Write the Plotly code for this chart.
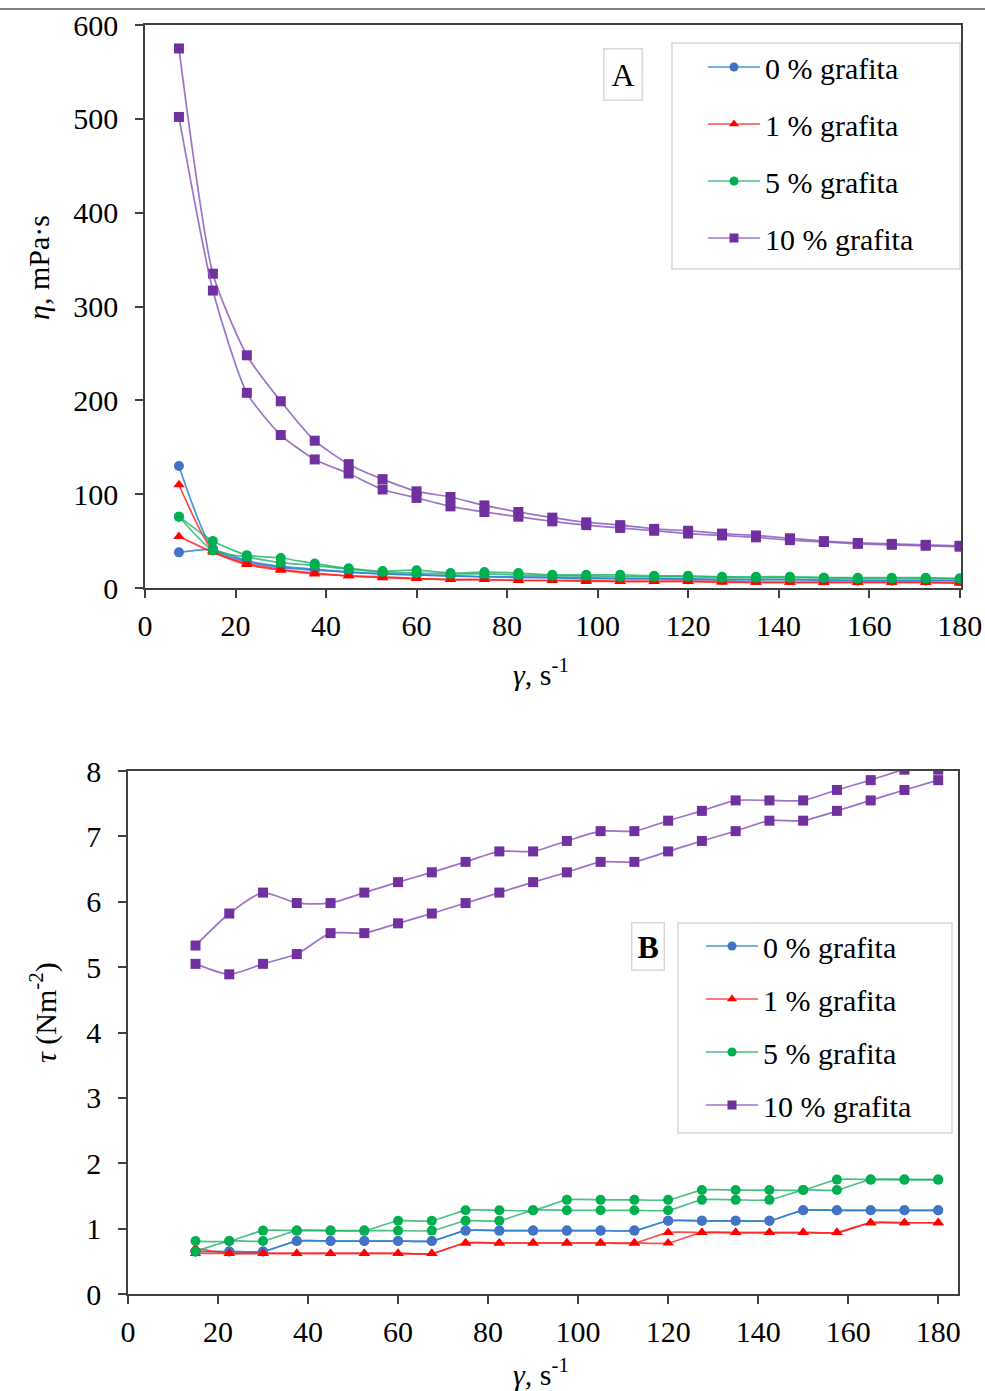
import plotly.graph_objects as go

# ---------------- data ----------------
series_names = ["0 % grafita", "1 % grafita", "5 % grafita", "10 % grafita"]

# Chart A: viscosity vs shear rate (up and down curves)
shear_A = [7.5, 15, 22.5, 30, 37.5, 45, 52.5, 60, 67.5, 75, 82.5, 90,
           97.5, 105, 112.5, 120, 127.5, 135, 142.5, 150, 157.5, 165, 172.5, 180]
eta_0_up = [130, 42, 28, 22, 19, 17, 15, 14, 13, 12, 12, 11, 11, 10, 10, 10, 9, 9, 9, 9, 8, 8, 8, 8]
eta_0_dn = [38, 41, 29, 23, 20, 17, 15, 14, 13, 12, 11, 11, 10, 10, 10, 9, 9, 9, 9, 8, 8, 8, 8, 8]
eta_1_up = [110, 40, 26, 20, 16, 13, 12, 10, 9, 9, 8, 8, 8, 7, 7, 7, 7, 6, 6, 6, 6, 6, 6, 6]
eta_1_dn = [55, 38, 25, 19, 15, 13, 11, 10, 9, 9, 8, 8, 7, 7, 7, 7, 6, 6, 6, 6, 6, 6, 6, 5]
eta_5_up = [76, 50, 35, 32, 26, 21, 18, 19, 16, 17, 16, 14, 14, 14, 13, 13, 12, 12, 12, 11, 11, 11, 11, 10]
eta_5_dn = [76, 40, 33, 27, 24, 20, 17, 16, 15, 15, 14, 13, 13, 12, 12, 12, 11, 11, 11, 11, 10, 10, 10, 10]
eta_10_up = [575, 335, 248, 199, 157, 132, 116, 103, 97, 88, 81, 75, 70, 67, 63, 61, 58, 56, 53, 50, 48, 47, 46, 45]
eta_10_dn = [502, 317, 208, 163, 137, 122, 105, 96, 87, 81, 76, 71, 67, 64, 61, 58, 56, 54, 51, 49, 47, 46, 45, 44]

# Chart B: shear stress vs shear rate (up and down curves)
shear_B = [15, 22.5, 30, 37.5, 45, 52.5, 60, 67.5, 75, 82.5, 90, 97.5,
           105, 112.5, 120, 127.5, 135, 142.5, 150, 157.5, 165, 172.5, 180]
tau_0_a = [0.65, 0.65, 0.65, 0.81, 0.81, 0.81, 0.81, 0.81, 0.97, 0.97, 0.97, 0.97,
           0.97, 0.97, 1.12, 1.12, 1.12, 1.12, 1.28, 1.28, 1.28, 1.28, 1.28]
tau_0_b = [0.65, 0.65, 0.65, 0.81, 0.81, 0.81, 0.81, 0.81, 0.97, 0.97, 0.97, 0.97,
           0.97, 0.97, 1.12, 1.12, 1.12, 1.12, 1.28, 1.28, 1.28, 1.28, 1.28]
tau_1_a = [0.70, 0.62, 0.62, 0.62, 0.62, 0.62, 0.62, 0.62, 0.78, 0.78, 0.78, 0.78,
           0.78, 0.78, 0.94, 0.94, 0.94, 0.94, 0.94, 0.94, 1.09, 1.09, 1.09]
tau_1_b = [0.62, 0.62, 0.62, 0.62, 0.62, 0.62, 0.62, 0.62, 0.78, 0.78, 0.78, 0.78,
           0.78, 0.78, 0.78, 0.94, 0.94, 0.94, 0.94, 0.94, 1.09, 1.09, 1.09]
tau_5_a = [0.81, 0.81, 0.97, 0.97, 0.97, 0.97, 1.12, 1.12, 1.28, 1.28, 1.28, 1.44,
           1.44, 1.44, 1.44, 1.59, 1.59, 1.59, 1.59, 1.75, 1.75, 1.75, 1.75]
tau_5_b = [0.65, 0.81, 0.81, 0.97, 0.97, 0.97, 0.97, 0.97, 1.12, 1.12, 1.28, 1.28,
           1.28, 1.28, 1.28, 1.44, 1.44, 1.44, 1.59, 1.59, 1.75, 1.75, 1.75]
tau_10_a = [5.33, 5.82, 6.14, 5.98, 5.98, 6.14, 6.30, 6.45, 6.61, 6.77, 6.77, 6.93,
            7.08, 7.08, 7.24, 7.39, 7.55, 7.55, 7.55, 7.71, 7.86, 8.02, 8.02]
tau_10_b = [5.05, 4.89, 5.05, 5.20, 5.52, 5.52, 5.67, 5.82, 5.98, 6.14, 6.30, 6.45,
            6.61, 6.61, 6.77, 6.93, 7.08, 7.24, 7.24, 7.39, 7.55, 7.71, 7.86]

xticks = [0, 20, 40, 60, 80, 100, 120, 140, 160, 180]
yticks_A = [0, 100, 200, 300, 400, 500, 600]
yticks_B = [0, 1, 2, 3, 4, 5, 6, 7, 8]

# ---------------- styles ----------------
marker_colors = ["#4472C4", "#FF0000", "#00B050", "#7030A0"]
line_colors = ["rgba(46,130,210,0.85)", "rgba(255,30,30,0.8)", "rgba(30,178,100,0.8)", "rgba(140,90,190,0.85)"]
symbols = ["circle", "triangle-up", "circle", "square"]
FONT = "Liberation Serif, Times New Roman, serif"

W, H = 985, 1391
def px(x):
    return x / W
def py(y):
    return (H - y) / H

fig = go.Figure()

data_A = [(eta_0_up, eta_0_dn), (eta_1_up, eta_1_dn), (eta_5_up, eta_5_dn), (eta_10_up, eta_10_dn)]
data_B = [(tau_0_a, tau_0_b), (tau_1_a, tau_1_b), (tau_5_a, tau_5_b), (tau_10_a, tau_10_b)]

def add_series(xs, pair, i, xa, ya):
    for ys in pair:
        fig.add_trace(go.Scatter(
            x=xs, y=ys, mode="lines+markers", xaxis=xa, yaxis=ya,
            line=dict(color=line_colors[i], width=1.7, shape="spline", smoothing=0.6),
            marker=dict(color=marker_colors[i], symbol=symbols[i], size=10,
                        line=dict(width=0)),
            showlegend=False, hoverinfo="x+y"))

for i in range(4):
    add_series(shear_A, data_A[i], i, "x", "y")
for i in range(4):
    add_series(shear_B, data_B[i], i, "x2", "y2")

# legend-only entries
for leg, xa, ya in [("legend", "x", "y"), ("legend2", "x2", "y2")]:
    for i, name in enumerate(series_names):
        fig.add_trace(go.Scatter(
            x=[None], y=[None], mode="lines+markers", name=name, xaxis=xa, yaxis=ya,
            legend=leg, legendgroup=leg + str(i),
            line=dict(color=line_colors[i], width=1.5),
            marker=dict(color=marker_colors[i], symbol=symbols[i], size=9, line=dict(width=0))))

axis_common = dict(showline=True, linecolor="#404040", linewidth=1.5, mirror=True,
                   ticks="outside", ticklen=8, tickcolor="#404040", tickwidth=1.5,
                   showgrid=False, zeroline=False, automargin=False,
                   tickfont=dict(family=FONT, size=30, color="black"))

fig.update_layout(
    width=W, height=H, margin=dict(l=0, r=0, t=0, b=0, pad=0, autoexpand=False),
    paper_bgcolor="white", plot_bgcolor="white",
    font=dict(family=FONT, color="black"),
    xaxis=dict(domain=[px(145), px(961)], range=[0, 180.3], tickvals=xticks, anchor="y",
               ticklabelstandoff=2, **axis_common),
    yaxis=dict(domain=[py(588), py(25)], range=[0, 600], tickvals=yticks_A, anchor="x",
               ticklabelstandoff=11, **axis_common),
    xaxis2=dict(domain=[px(128), px(958)], range=[0, 184.4], tickvals=xticks, anchor="y2",
                ticklabelstandoff=2, **axis_common),
    yaxis2=dict(domain=[py(1294), py(771)], range=[0, 8], tickvals=yticks_B, anchor="x2",
                ticklabelstandoff=11, **axis_common),
    legend=dict(x=px(703), y=py(41), xanchor="left", yanchor="top",
                borderwidth=0, bgcolor="rgba(0,0,0,0)",
                font=dict(family=FONT, size=30), itemwidth=52,
                tracegroupgap=15, traceorder="grouped"),
    legend2=dict(x=px(701), y=py(920), xanchor="left", yanchor="top",
                 borderwidth=0, bgcolor="rgba(0,0,0,0)",
                 font=dict(family=FONT, size=30), itemwidth=52,
                 tracegroupgap=11, traceorder="grouped"),
)

annotations = [
    dict(text="A", x=px(623), y=py(75), xref="paper", yref="paper", showarrow=False,
         xanchor="center", yanchor="middle",
         font=dict(family=FONT, size=32), bordercolor="#D9D9D9", borderwidth=1.5, borderpad=7,
         bgcolor="white"),
    dict(text="<b>B</b>", x=px(648), y=py(947), xref="paper", yref="paper", showarrow=False,
         xanchor="center", yanchor="middle",
         font=dict(family=FONT, size=32), bordercolor="#D9D9D9", borderwidth=1.5, borderpad=5,
         bgcolor="white"),
    dict(text="<i>η</i>, mPa·s", x=px(38), y=py(268), xref="paper", yref="paper", showarrow=False,
         xanchor="center", yanchor="middle",
         textangle=-90, font=dict(family=FONT, size=30)),
    dict(text="<i>γ</i>, s<sup>-1</sup>", x=px(541), y=py(672), xref="paper", yref="paper", showarrow=False,
         xanchor="center", yanchor="middle",
         font=dict(family=FONT, size=30)),
    dict(text="<i>τ</i> (Nm<sup>-2</sup>)", x=px(44), y=py(1013), xref="paper", yref="paper", showarrow=False,
         xanchor="center", yanchor="middle",
         textangle=-90, font=dict(family=FONT, size=30)),
    dict(text="<i>γ</i>, s<sup>-1</sup>", x=px(541), y=py(1372), xref="paper", yref="paper", showarrow=False,
         xanchor="center", yanchor="middle",
         font=dict(family=FONT, size=30)),
]
fig.update_layout(annotations=annotations)

shapes = [
    dict(type="line", xref="paper", yref="paper", x0=0, x1=1, y0=py(9), y1=py(9),
         line=dict(color="black", width=1.2)),
    dict(type="rect", xref="paper", yref="paper", x0=px(672), x1=px(960), y0=py(269), y1=py(43),
         line=dict(color="#D9D9D9", width=1.5), fillcolor="white", layer="above"),
    dict(type="rect", xref="paper", yref="paper", x0=px(678), x1=px(952), y0=py(1133), y1=py(923),
         line=dict(color="#D9D9D9", width=1.5), fillcolor="white", layer="above"),
]
fig.update_layout(shapes=shapes)

fig.write_html("out.html")
